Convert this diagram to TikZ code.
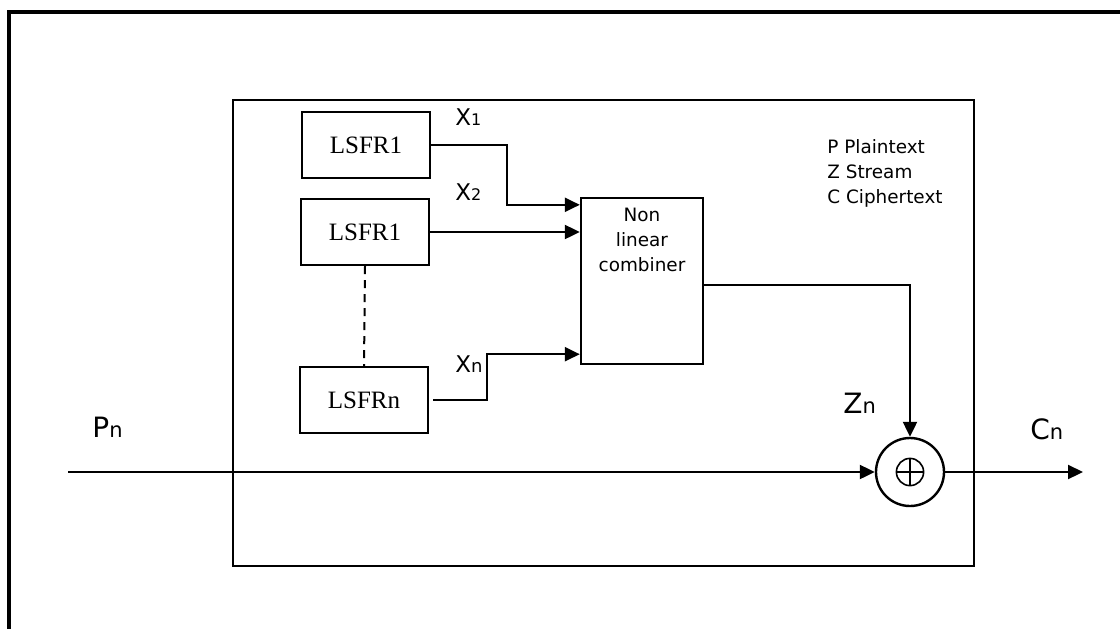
\documentclass[tikz,border=0pt]{standalone}
\usepackage{fontspec}
\setmainfont{Liberation Serif}
\setsansfont{DejaVu Sans}
\usetikzlibrary{arrows.meta}

\begin{document}
\begin{tikzpicture}[
            x=0.5pt, y=-0.5pt,
            reg/.style={draw, line width=1.2pt, minimum width=64pt, minimum height=33pt, inner sep=0pt, font=\fontsize{12.5}{14}\selectfont},
            comb/.style={draw, line width=1.2pt, minimum width=61pt, minimum height=83pt, inner sep=0pt},
            xorc/.style={circle, draw, line width=1.2pt, minimum size=34pt, inner sep=0pt},
            lbl/.style={anchor=base west, inner sep=0pt, font=\sffamily\fontsize{11.5}{12}\selectfont},
            big/.style={anchor=base west, inner sep=0pt, font=\sffamily\fontsize{14}{15}\selectfont},
            arr/.style={line width=1.1pt, -{Triangle[length=7.5pt,width=7pt]}}
        ]
            \useasboundingbox (0,0) rectangle (1120,628);
            % frame
            \draw[line width=1.6pt] (9,640) -- (9,12) -- (1130,12);
            \draw[line width=1.1pt] (233,100) rectangle (974,566);

            \node[reg] (l1) at (366,145) {LSFR1};
            \node[reg] (l2) at (365,232) {LSFR1};
            \node[reg] (ln) at (364,400) {LSFRn};
            \node[comb] (nlc) at (642,281) {};
            \node[anchor=north, align=center, inner sep=0pt, font=\sffamily\fontsize{9.2}{12.5}\selectfont] (nlctxt) at (642,208) {Non\\linear\\combiner};
            \node[xorc] (xor) at (910,472) {};
            % the plus sign in the circle
            \draw[line width=0.8pt] (xor.center) circle (6.8pt);
            \draw[line width=0.8pt] ([xshift=-6.8pt]xor.center) -- ([xshift=6.8pt]xor.center);
            \draw[line width=0.8pt] ([yshift=-6.8pt]xor.center) -- ([yshift=6.8pt]xor.center);

            \node[lbl] (x1) at (455,125) {X{\fontsize{8}{9}\selectfont 1}};
            \node[lbl] (x2) at (455,200) {X{\fontsize{8}{9}\selectfont 2}};
            \node[lbl] (xn) at (455,372) {X{\fontsize{9}{9}\selectfont n}};
            \node[big] (pn) at (92,437) {P{\fontsize{10.5}{11}\selectfont n}};
            \node[big] (zn) at (843,413) {Z{\fontsize{10.5}{11}\selectfont n}};
            \node[big] (cn) at (1030,439) {C{\fontsize{10.5}{11}\selectfont n}};
            \node[anchor=north west, align=left, inner sep=0pt, font=\sffamily\fontsize{9.2}{12.5}\selectfont] (key) at (827,139) {P Plaintext\\Z Stream\\C Ciphertext};

            \coordinate (pin) at (68,472);
            \coordinate (cout) at (1083,472);

            \draw[arr] (l1.east) -- ++(76,0) |- ([yshift=-4pt]nlc.north west);
            \draw[arr] (l2.east) -- (l2.east -| nlc.west);
            \draw[arr] ([xshift=2pt]ln.east) -- ++(54,0) |- ([yshift=5.5pt]nlc.south west);
            \draw[line width=1pt, dash pattern=on 4pt off 3pt] (l2.south) -- (ln.north);
            \draw[arr] ([yshift=-2pt]nlc.east) -| (xor.north);
            \draw[arr] (pin) -- (xor.west);
            \draw[arr] (xor.east) -- (cout);

        \end{tikzpicture}
\end{document}
